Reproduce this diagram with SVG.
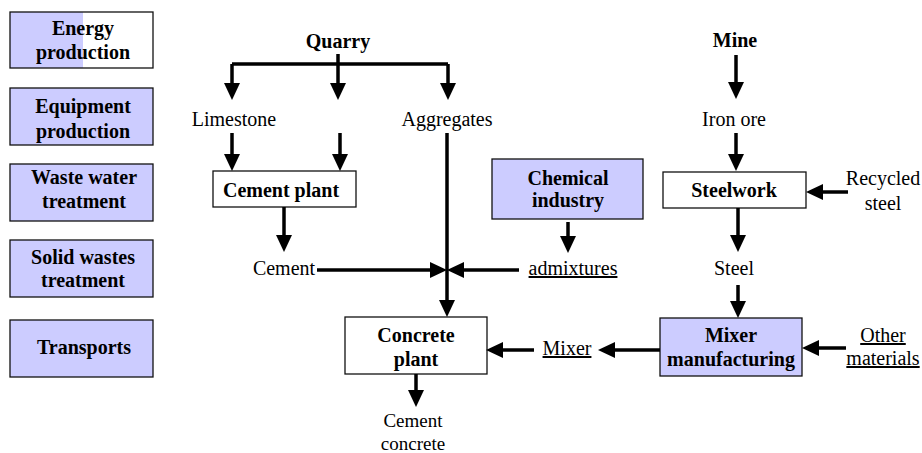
<svg xmlns="http://www.w3.org/2000/svg" width="922" height="453" viewBox="0 0 922 453">
<style>
text{font-family:"Liberation Serif","Times New Roman",serif;font-size:20px;fill:#000;text-anchor:middle}
.b{font-weight:bold}
.u{text-decoration:underline}
.s{font-size:19px}
.box{stroke:#111;stroke-width:1.3}
.w{fill:#fff}
.l{fill:#ccccff}
#connectors path{fill:none;stroke:#000;stroke-width:3.5}
.a{marker-end:url(#ah)}
</style>
<defs>
<marker id="ah" markerUnits="userSpaceOnUse" markerWidth="18" markerHeight="16" refX="7" refY="8" orient="auto">
<path d="M0,0 L17,8 L0,16 z" fill="#000"/>
</marker>
</defs>
<rect width="922" height="453" fill="#fff"/>

<g id="energy">
<rect x="10" y="12" width="143" height="56" class="w"/>
<rect x="10" y="12" width="73" height="56" class="l"/>
<rect x="10" y="12" width="143" height="56" class="box" fill="none"/>
<text x="83" y="35" class="b">Energy</text>
<text x="83" y="59" class="b">production</text>
</g>
<g id="equipment">
<rect x="10" y="88" width="143" height="57" class="box l"/>
<text x="83" y="113" class="b">Equipment</text>
<text x="83" y="138" class="b">production</text>
</g>
<g id="wastewater">
<rect x="10" y="164" width="143" height="57" class="box l"/>
<text x="84" y="184" class="b">Waste water</text>
<text x="84" y="208" class="b">treatment</text>
</g>
<g id="solidwastes">
<rect x="10" y="240" width="143" height="57" class="box l"/>
<text x="83" y="264" class="b">Solid wastes</text>
<text x="83" y="287" class="b">treatment</text>
</g>
<g id="transports">
<rect x="10" y="320" width="143" height="57" class="box l"/>
<text x="84" y="354" class="b">Transports</text>
</g>

<g id="quarry"><text x="338" y="48" class="b">Quarry</text></g>
<g id="mine"><text x="735" y="47" class="b">Mine</text></g>
<g id="limestone"><text x="234" y="126">Limestone</text></g>
<g id="aggregates"><text x="447" y="126">Aggregates</text></g>
<g id="ironore"><text x="734" y="126">Iron ore</text></g>

<g id="cementplant">
<rect x="213" y="171" width="143" height="36" class="box w"/>
<text x="281" y="197" class="b">Cement plant</text>
</g>
<g id="chemical">
<rect x="492" y="159" width="151" height="60" class="box l"/>
<text x="568" y="185" class="b">Chemical</text>
<text x="568" y="207" class="b">industry</text>
</g>
<g id="steelwork">
<rect x="663" y="172" width="143" height="36" class="box w"/>
<text x="734" y="197" class="b">Steelwork</text>
</g>
<g id="recycled">
<text x="883" y="185">Recycled</text>
<text x="883" y="210">steel</text>
</g>
<g id="cement"><text x="284" y="275">Cement</text></g>
<g id="admixtures"><text x="573" y="275" class="u">admixtures</text></g>
<g id="steel"><text x="734" y="275">Steel</text></g>

<g id="concreteplant">
<rect x="345" y="317" width="142" height="57" class="box w"/>
<text x="416" y="342" class="b">Concrete</text>
<text x="416" y="366" class="b">plant</text>
</g>
<g id="mixer"><text x="567" y="355" class="u">Mixer</text></g>
<g id="mixermfg">
<rect x="660" y="318" width="142" height="58" class="box l"/>
<text x="731" y="342" class="b">Mixer</text>
<text x="731" y="366" class="b">manufacturing</text>
</g>
<g id="othermaterials">
<text x="883" y="342" class="u">Other</text>
<text x="883" y="365" class="u">materials</text>
</g>
<g id="cementconcrete">
<text x="413" y="427" class="s">Cement</text>
<text x="413" y="450" class="s">concrete</text>
</g>

<g id="connectors">
<path d="M232,64 H448"/>
<path class="a" d="M232,64 V90"/>
<path class="a" d="M338,54 V90"/>
<path class="a" d="M448,64 V90"/>
<path class="a" d="M232,133 V161"/>
<path class="a" d="M340,133 V161"/>
<path class="a" d="M447,133 V307"/>
<path class="a" d="M284,207 V242"/>
<path class="a" d="M568,222 V243"/>
<path class="a" d="M317,270 H437"/>
<path class="a" d="M519,270 H457"/>
<path class="a" d="M736,55 V89"/>
<path class="a" d="M736,133 V161"/>
<path class="a" d="M848,192 H816"/>
<path class="a" d="M738,208 V242"/>
<path class="a" d="M738,285 V308"/>
<path class="a" d="M846,348 H812"/>
<path class="a" d="M660,350 H608"/>
<path class="a" d="M534,350 H496"/>
<path class="a" d="M416,374 V397"/>
</g>
</svg>
